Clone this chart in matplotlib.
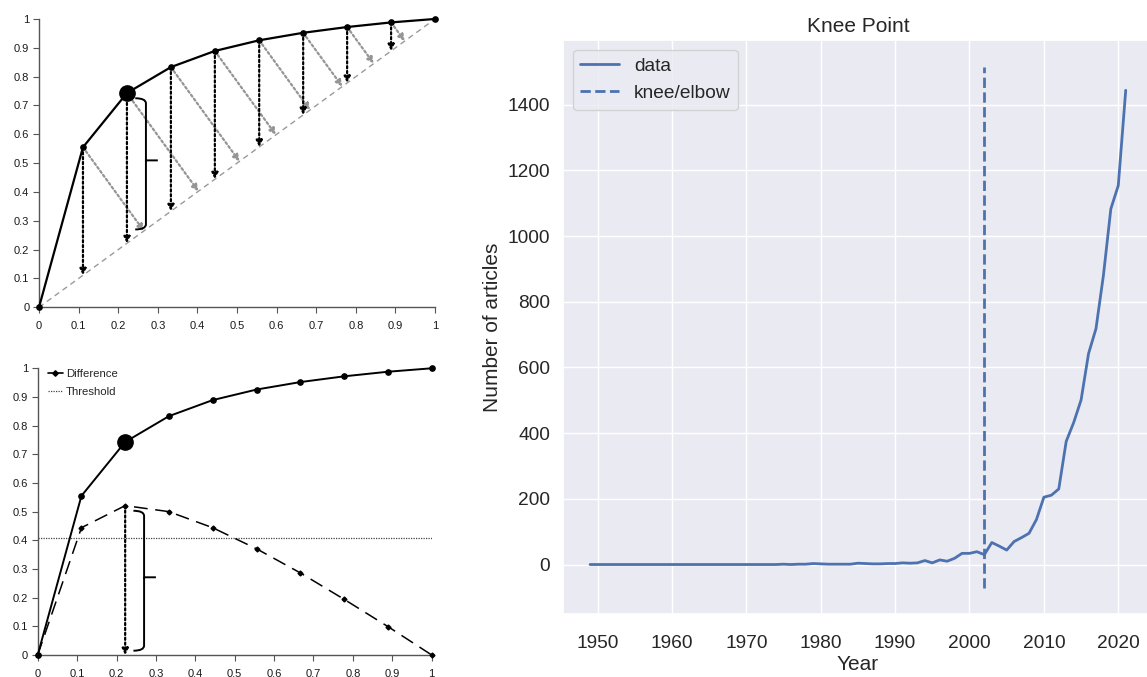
import numpy as np
import matplotlib
matplotlib.use("Agg")
import matplotlib.pyplot as plt
import seaborn as sns
from matplotlib.path import Path
from matplotlib.patches import PathPatch

# normalised curve used in the two explanatory panels
x_norm = [0.0, 0.111, 0.222, 0.333, 0.444, 0.556, 0.667, 0.778, 0.889, 1.0]
y_norm = [0.0, 0.555, 0.743, 0.833, 0.889, 0.926, 0.952, 0.972, 0.988, 1.0]
y_diff = [0.0, 0.444, 0.521, 0.500, 0.444, 0.370, 0.286, 0.194, 0.099, 0.0]
threshold = 0.407
knee_idx = 2
left_ticks = [0, 0.1, 0.2, 0.3, 0.4, 0.5, 0.6, 0.7, 0.8, 0.9, 1]
left_ticklabels = ["0", "0.1", "0.2", "0.3", "0.4", "0.5", "0.6", "0.7", "0.8", "0.9", "1"]

# articles per year
years = list(range(1949, 2022))
articles = [0] * 21 + [0, 0, 0, 0, 0, 1, 0, 1,
            1, 3, 2, 1, 1, 1, 1, 4, 3, 2, 2, 3, 3, 5, 4, 5, 12, 5, 14, 10, 19, 34,
            34, 39, 30, 67, 56, 44, 70, 82, 95, 137, 205, 211, 230, 375, 432, 501,
            642, 718, 880, 1083, 1154, 1444]
knee_year = 2002

sns.set_theme(font_scale=1.25)
plt.rcParams['font.family'] = ['Liberation Sans', 'DejaVu Sans']

fig = plt.figure(figsize=(11.47, 6.77), dpi=100)
fig.patch.set_facecolor('white')


def excel_axes(rect):
    ax = fig.add_axes(rect)
    ax.set_facecolor('white')
    ax.grid(False)
    ax.set_xlim(0, 1)
    ax.set_ylim(0, 1)
    for s in ['top', 'right']:
        ax.spines[s].set_visible(False)
    for s in ['left', 'bottom']:
        ax.spines[s].set_color('#555555')
        ax.spines[s].set_linewidth(1.0)
    ax.set_xticks(left_ticks)
    ax.set_xticklabels(left_ticklabels)
    ax.set_yticks(left_ticks)
    ax.set_yticklabels(left_ticklabels)
    ax.tick_params(axis='both', direction='out', length=4, width=0.8, color='#555555',
                   labelsize=8, labelcolor='#1a1a1a', left=True, bottom=True)
    ax.tick_params(axis='x', pad=6)
    ax.tick_params(axis='y', pad=3)
    return ax


def arrow(ax, start, end, color, lw=1.6):
    ax.annotate('', xy=end, xytext=start,
                arrowprops=dict(arrowstyle='-|>', linestyle=(0, (1, 1.2)), lw=lw,
                                color=color, shrinkA=0, shrinkB=0, mutation_scale=9),
                annotation_clip=False)


def brace(ax, x, y0, y1):
    w = 0.027
    h = 0.018
    ym = (y0 + y1) / 2 + 0.012
    verts = [(x - w, y0), (x, y0), (x, y0 - h),
             (x, ym + 0.004), (x, ym), (x + 0.03, ym),
             (x, ym), (x, ym - 0.004),
             (x, y1 + h), (x, y1), (x - w, y1)]
    codes = [Path.MOVETO, Path.CURVE3, Path.CURVE3,
             Path.LINETO, Path.LINETO, Path.LINETO,
             Path.MOVETO, Path.LINETO,
             Path.LINETO, Path.CURVE3, Path.CURVE3]
    ax.add_patch(PathPatch(Path(verts, codes), fill=False, lw=1.4, color='black',
                           clip_on=False, zorder=5))


# ---- top left: curve, diagonal, distances
ax1 = excel_axes([0.0340, 0.5461, 0.3453, 0.4259])
ax1.plot([0, 1], [0, 1], color='#9a9a9a', lw=1.0, ls=(0, (4, 3)), zorder=1)
fig.canvas.draw()
T = ax1.transData
p0 = T.transform((0, 0))
p1 = T.transform((1, 1))
d = (p1 - p0) / np.linalg.norm(p1 - p0)
for i in range(1, len(x_norm) - 1):
    arrow(ax1, (x_norm[i], y_norm[i]), (x_norm[i], x_norm[i]), 'black')
    p = T.transform((x_norm[i], y_norm[i]))
    foot = p0 + np.dot(p - p0, d) * d
    fx, fy = T.inverted().transform(foot)
    arrow(ax1, (x_norm[i], y_norm[i]), (fx, fy), '#959595')
ax1.plot(x_norm, y_norm, color='black', lw=1.6, marker='o', ms=3.8, clip_on=False, zorder=4)
ax1.plot(x_norm[knee_idx], y_norm[knee_idx], 'o', color='black', ms=11, clip_on=False, zorder=6)
bx = x_norm[knee_idx] + 0.048
brace(ax1, bx, y_norm[knee_idx] - 0.018, bx)

# ---- bottom left: difference curve and threshold
ax2 = excel_axes([0.03287, 0.0325, 0.3435, 0.4235])
ax2.plot(x_norm, y_norm, color='black', lw=1.4, marker='o', ms=3.8, clip_on=False, zorder=4)
ax2.plot(x_norm[knee_idx], y_norm[knee_idx], 'o', color='black', ms=11, clip_on=False, zorder=6)
ax2.plot(x_norm, y_diff, color='black', lw=1.1, ls=(0, (9, 5)), marker='D', ms=2.5,
         clip_on=False, zorder=4, label='Difference')
ax2.axhline(threshold, color='#444444', lw=0.9, ls=(0, (1, 1)), label='Threshold')
arrow(ax2, (x_norm[knee_idx], y_diff[knee_idx]), (x_norm[knee_idx], 0), 'black')
brace(ax2, bx, y_diff[knee_idx] - 0.018, 0.015)
h_diff = plt.Line2D([], [], color='black', lw=1.2, marker='D', ms=2.8, markevery=[1])
h_thr = plt.Line2D([], [], color='#444444', lw=0.9, ls=(0, (1, 1)))
ax2.legend([h_diff, h_thr], ['Difference', 'Threshold'], loc='upper left',
           bbox_to_anchor=(0.0, 1.035), frameon=False, fontsize=8.2, handlelength=1.3,
           handletextpad=0.3, labelspacing=0.75)

# ---- right: knee plot
ax3 = fig.add_axes([0.4911, 0.0926, 0.5137, 0.8476])
ax3.plot(years, articles, color='#4C72B0', lw=2.0, label='data')
ylim = ax3.get_ylim()
ax3.vlines(knee_year, ylim[0], ylim[1], colors='#4C72B0', linestyles='--', lw=2.0,
           label='knee/elbow')
ax3.set_title('Knee Point', fontsize=15)
ax3.set_xlabel('Year', fontsize=15, labelpad=2)
ax3.set_ylabel('Number of articles', fontsize=15)
ax3.tick_params(labelsize=13.75)
ax3.tick_params(axis='x', pad=9)
ax3.legend(loc='upper left', fontsize=13.75)

fig.savefig('out.png', dpi=100)
